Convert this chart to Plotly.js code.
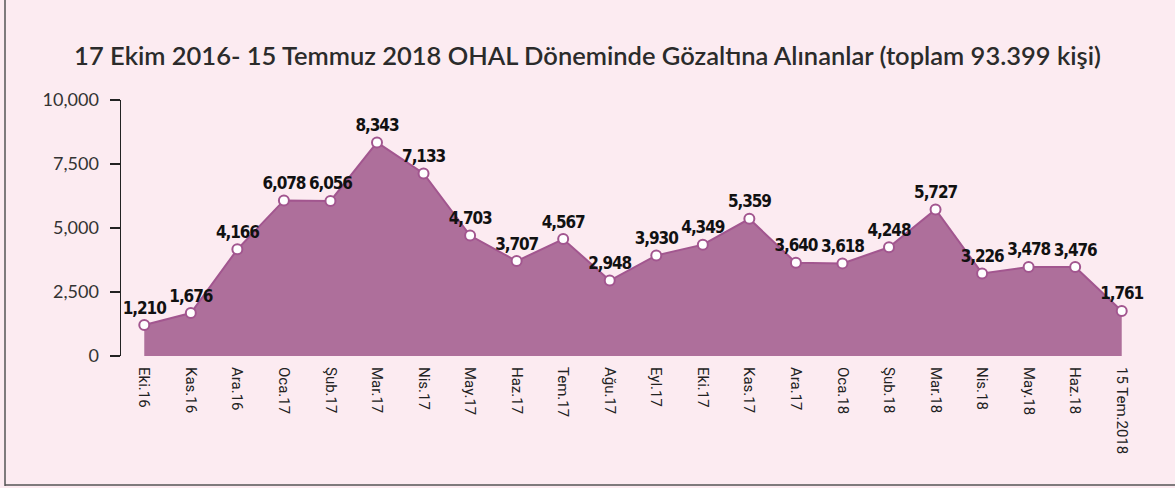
<!DOCTYPE html>
<html>
<head>
<meta charset="utf-8">
<script src="https://cdn.plot.ly/plotly-3.0.1.min.js"></script>
<style>
html,body{margin:0;padding:0;background:#fcebf1;}
#chart{width:1175px;height:488px;}
#chart .textpoint text{letter-spacing:-1.1px;}
</style>
</head>
<body>
<div id="chart"></div>
<script>
var months = ["Eki.16","Kas.16","Ara.16","Oca.17","Şub.17","Mar.17","Nis.17","May.17","Haz.17","Tem.17","Ağu.17","Eyl.17","Eki.17","Kas.17","Ara.17","Oca.18","Şub.18","Mar.18","Nis.18","May.18","Haz.18","15 Tem.2018"];
var detained = [1210,1676,4166,6078,6056,8343,7133,4703,3707,4567,2948,3930,4349,5359,3640,3618,4248,5727,3226,3478,3476,1761];
var yTicks = [0,2500,5000,7500,10000];
var yTickLabels = ["0","2,500","5,000","7,500","10,000"];
var chartTitle = "17 Ekim 2016- 15 Temmuz 2018 OHAL Döneminde Gözaltına Alınanlar (toplam 93.399 kişi)";

var trace = {
  x: months,
  y: detained,
  type: "scatter",
  mode: "lines+markers+text",
  fill: "tozeroy",
  fillcolor: "#ae6f9b",
  line: {color: "#a2568f", width: 2},
  marker: {color: "#ffffff", size: 10, line: {color: "#a2568f", width: 2}},
  text: detained.map(function(v){return v.toLocaleString("en-US");}),
  textposition: "top center",
  textfont: {family: "DejaVu Sans Condensed, Liberation Sans Narrow, DejaVu Sans, sans-serif", size: 17, color: "#111111", weight: 700, stretch: "condensed"},
  cliponaxis: false,
  hoverinfo: "x+y"
};

var layout = {
  width: 1175,
  height: 488,
  paper_bgcolor: "#fcebf1",
  plot_bgcolor: "#fcebf1",
  margin: {l: 121, r: 30, t: 100, b: 132},
  showlegend: false,
  title: {
    text: chartTitle,
    font: {family: "Lato, sans-serif", size: 25.5, color: "#2b2b2b", weight: 600},
    x: 0.5, xanchor: "center", y: 0.885, yanchor: "middle"
  },
  xaxis: {
    type: "category",
    range: [-0.5, 21.5],
    showline: false,
    showgrid: false,
    zeroline: false,
    ticks: "",
    tickangle: 90,
    ticklabelstandoff: 10,
    tickfont: {family: "Roboto, sans-serif", size: 15, color: "#222222", weight: 400},
    fixedrange: true
  },
  yaxis: {
    range: [0, 10000],
    tickvals: yTicks,
    ticktext: yTickLabels,
    showline: true,
    linecolor: "#222222",
    linewidth: 1.5,
    ticks: "outside",
    ticklen: 10,
    tickwidth: 1.5,
    tickcolor: "#222222",
    showgrid: false,
    zeroline: false,
    ticklabelstandoff: 7,
    tickfont: {family: "Lato, sans-serif", size: 18, color: "#333333"},
    fixedrange: true
  },
  shapes: [
    {type: "line", xref: "paper", yref: "paper", x0: -116/1024, x1: -116/1024, y0: -130/256, y1: 1.6, line: {color: "#555555", width: 1.5}},
    {type: "line", xref: "paper", yref: "paper", x0: -116/1024, x1: 1.05, y0: -129/256, y1: -129/256, line: {color: "#555555", width: 1.5}}
  ]
};

Plotly.newPlot("chart", [trace], layout, {displayModeBar: false, staticPlot: true});
</script>
</body>
</html>
